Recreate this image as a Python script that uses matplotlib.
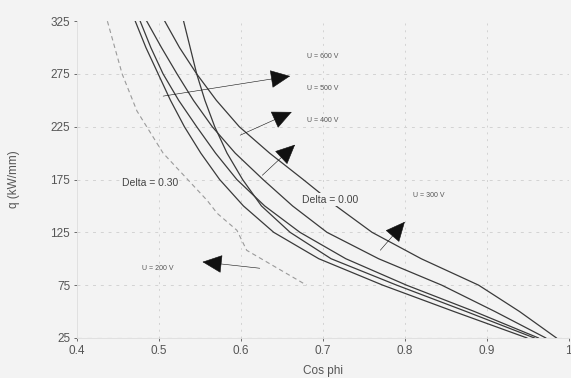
import matplotlib.pyplot as plt

plt.rcParams['font.family'] = ['Liberation Sans', 'DejaVu Sans']

# q values (kW/mm) at which the curves were read
q = [325, 300, 275, 250, 225, 200, 175, 150, 125, 100, 75, 50, 25]

# cos phi, Delta = 0.00 family
cos_1 = [0.471, 0.484, 0.499, 0.514, 0.531, 0.551, 0.574, 0.603, 0.640, 0.695, 0.773, 0.860, 0.949]
cos_2 = [0.477, 0.490, 0.505, 0.524, 0.546, 0.569, 0.595, 0.629, 0.672, 0.728, 0.802, 0.885, 0.963]
cos_3 = [0.485, 0.503, 0.522, 0.542, 0.565, 0.593, 0.627, 0.663, 0.705, 0.768, 0.845, 0.910, 0.972]
cos_4 = [0.507, 0.525, 0.546, 0.570, 0.598, 0.635, 0.676, 0.716, 0.760, 0.820, 0.890, 0.940, 0.985]
cos_5 = [0.530, 0.538, 0.546, 0.556, 0.568, 0.583, 0.602, 0.625, 0.660, 0.710, 0.790, 0.875, 0.958]

# faint dashed Delta = 0.30 curve
q_d = [325, 275, 240, 200, 155, 143, 127, 108, 75]
cos_d = [0.437, 0.455, 0.473, 0.505, 0.559, 0.571, 0.595, 0.607, 0.680]

xticks = [0.4, 0.5, 0.6, 0.7, 0.8, 0.9, 1.0]
xtick_labels = ['0.4', '0.5', '0.6', '0.7', '0.8', '0.9', '1']
yticks = [25, 75, 125, 175, 225, 275, 325]

bg = '#f3f3f3'
fig = plt.figure(figsize=(5.71, 3.78), dpi=100, facecolor=bg)
ax = fig.add_axes([0.135, 0.106, 0.861, 0.838], facecolor=bg)

for x in xticks[1:-1]:
    ax.axvline(x, color='#d2d2d2', lw=0.7, ls=(0, (2, 5)), zorder=0)
for y in yticks[1:-1]:
    ax.axhline(y, color='#d2d2d2', lw=0.7, ls=(0, (3, 5)), zorder=0)
ax.axhline(25, color='#aaaaaa', lw=0.8, ls=(0, (4, 5)), zorder=0)

for c in [cos_1, cos_2, cos_3, cos_4, cos_5]:
    ax.plot(c, q, color='#3a3a3a', lw=0.9)
ax.plot(cos_d, q_d, color='#9a9a9a', lw=0.8, ls=(0, (4, 3)))

# arrows with big black heads near the labels
arrows = [((0.505, 254), (0.660, 273)),
          ((0.599, 217), (0.662, 239)),
          ((0.626, 179), (0.666, 208)),
          ((0.770, 108), (0.800, 135)),
          ((0.623, 91), (0.553, 97))]
for tail, head in arrows:
    ax.annotate('', xy=head, xytext=tail,
                arrowprops=dict(arrowstyle='-|>,head_length=1.3,head_width=0.6',
                                color='#111111', lw=0.4, shrinkA=0, shrinkB=0))

box = dict(facecolor=bg, edgecolor='none', pad=1)
ax.text(0.489, 172, 'Delta = 0.30', fontsize=7.5, color='#444444', ha='center', va='center', bbox=box)
ax.text(0.709, 156, 'Delta = 0.00', fontsize=7.5, color='#444444', ha='center', va='center', bbox=box)
ax.text(0.680, 292, 'U = 600 V', fontsize=5, color='#555555', va='center')
ax.text(0.680, 261, 'U = 500 V', fontsize=5, color='#555555', va='center')
ax.text(0.680, 231, 'U = 400 V', fontsize=5, color='#555555', va='center')
ax.text(0.810, 160, 'U = 300 V', fontsize=5, color='#555555', va='center')
ax.text(0.479, 91, 'U = 200 V', fontsize=5, color='#555555', va='center')

ax.set_xlim(0.4, 1.0)
ax.set_ylim(25, 325)
ax.set_xticks(xticks)
ax.set_xticklabels(xtick_labels)
ax.set_yticks(yticks)
ax.tick_params(colors='#555555', labelsize=8.5, length=2, width=0.6, pad=3)
for s in ['top', 'right']:
    ax.spines[s].set_visible(False)
for s in ['left', 'bottom']:
    ax.spines[s].set_color('#dddddd')
    ax.spines[s].set_linewidth(0.6)

ax.set_xlabel('Cos phi', fontsize=8.5, color='#555555', labelpad=6)
ax.set_ylabel('q (kW/mm)', fontsize=8.5, color='#555555', labelpad=22)

fig.savefig('out.png', dpi=100, facecolor=bg)
